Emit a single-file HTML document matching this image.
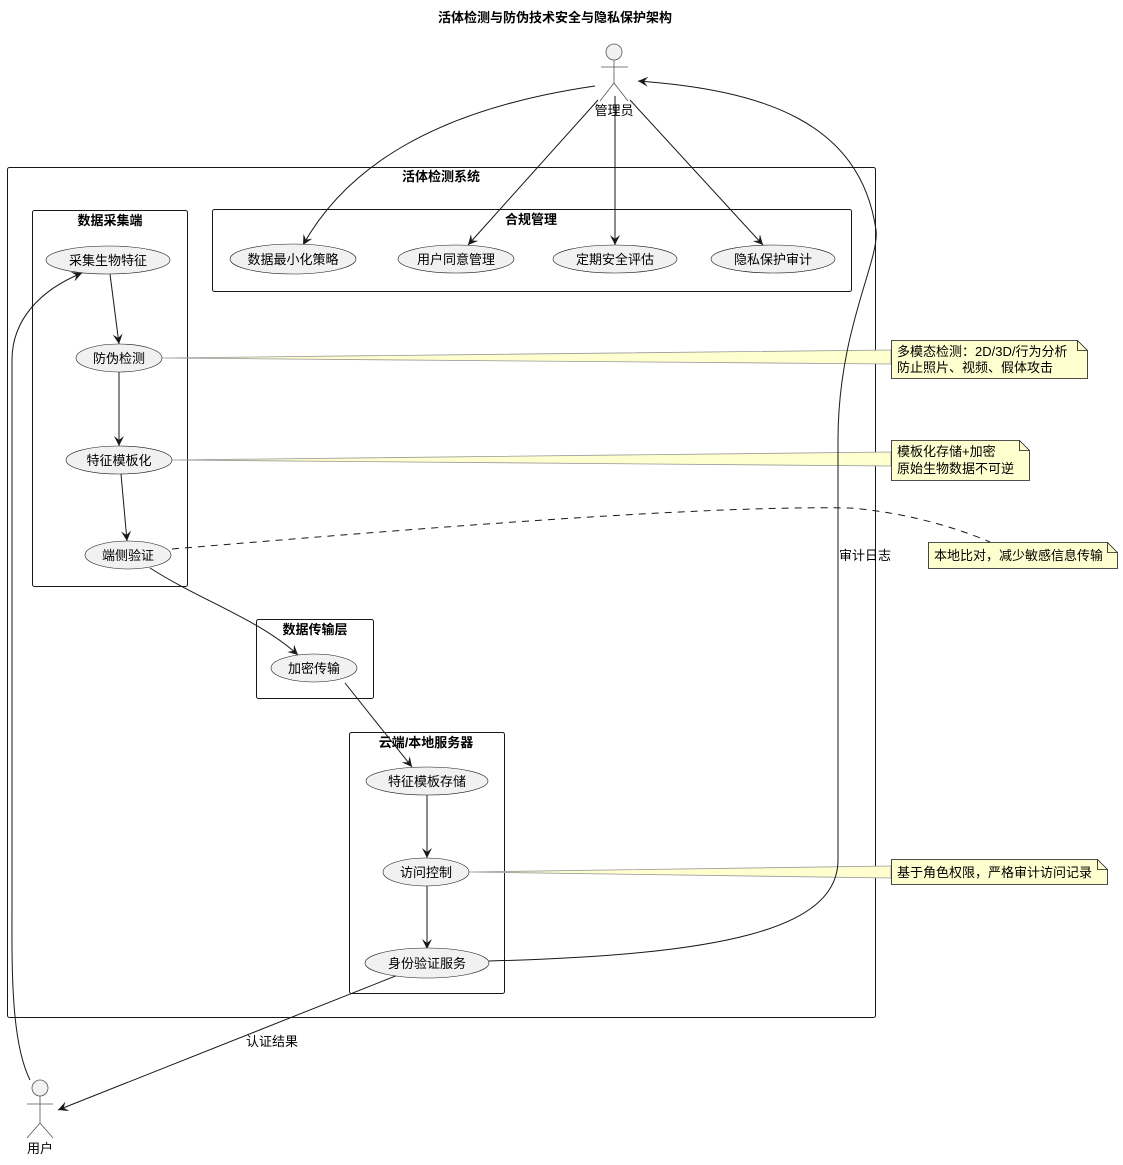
<!DOCTYPE html>
<html><head><meta charset="utf-8"><style>
html,body{margin:0;padding:0;background:#fff;}
svg text{font-family:"Liberation Sans","Noto Sans CJK SC",sans-serif;fill:#000;}
</style></head><body>
<svg width="1123" height="1160" viewBox="0 0 1123 1160" xmlns="http://www.w3.org/2000/svg">
<defs>
<marker id="a" markerWidth="12" markerHeight="10" refX="10" refY="5" orient="auto" markerUnits="userSpaceOnUse">
<path d="M0,0 L10,5 L0,10 L4,5 Z" fill="#181818"/>
</marker>
</defs>
<text x="555" y="22" font-size="13" font-weight="bold" text-anchor="middle">活体检测与防伪技术安全与隐私保护架构</text>

<!-- boxes -->
<rect x="7.5" y="167.5" width="868" height="850" rx="2" fill="none" stroke="#181818"/>
<text x="441" y="181" font-size="13" font-weight="bold" text-anchor="middle">活体检测系统</text>
<rect x="32.5" y="210.5" width="155" height="376" rx="2" fill="none" stroke="#181818"/>
<text x="110" y="225" font-size="13" font-weight="bold" text-anchor="middle">数据采集端</text>
<rect x="212.5" y="209.5" width="639" height="82" rx="2" fill="none" stroke="#181818"/>
<text x="531" y="224" font-size="13" font-weight="bold" text-anchor="middle">合规管理</text>
<rect x="256.5" y="619.5" width="117" height="79" rx="2" fill="none" stroke="#181818"/>
<text x="315" y="634" font-size="13" font-weight="bold" text-anchor="middle">数据传输层</text>
<rect x="349.5" y="732.5" width="155" height="261" rx="2" fill="none" stroke="#181818"/>
<text x="426" y="747" font-size="13" font-weight="bold" text-anchor="middle">云端/本地服务器</text>

<!-- note connectors -->
<g fill="#fefece" stroke="#999" stroke-width="0.8">
<polygon points="162,358 891,350 891,364"/>
<polygon points="172,460 891,452 891,466"/>
<polygon points="469,872 891,866 891,878"/>
</g>
<path d="M172,549 C400,530 700,505 850,508 C900,512 950,525 990,542" fill="none" stroke="#181818" stroke-dasharray="7,6"/>

<!-- notes -->
<g fill="#fefece" stroke="#181818" stroke-width="0.8">
<path d="M891.5,340.5 H1077.5 L1087.5,350.5 V378.5 H891.5 Z"/>
<path d="M1077.5,340.5 V350.5 H1087.5" fill="none"/>
<path d="M891.5,440.5 H1019.5 L1029.5,450.5 V480.5 H891.5 Z"/>
<path d="M1019.5,440.5 V450.5 H1029.5" fill="none"/>
<path d="M928.5,542.5 H1107.5 L1117.5,552.5 V568.5 H928.5 Z"/>
<path d="M1107.5,542.5 V552.5 H1117.5" fill="none"/>
<path d="M891.5,859.5 H1097.5 L1107.5,869.5 V884.5 H891.5 Z"/>
<path d="M1097.5,859.5 V869.5 H1107.5" fill="none"/>
</g>
<g font-size="13">
<text x="897" y="356">多模态检测：2D/3D/行为分析</text>
<text x="897" y="372">防止照片、视频、假体攻击</text>
<text x="897" y="456">模板化存储+加密</text>
<text x="897" y="473">原始生物数据不可逆</text>
<text x="934" y="560">本地比对，减少敏感信息传输</text>
<text x="897" y="877">基于角色权限，严格审计访问记录</text>
</g>

<!-- edges -->
<g fill="none" stroke="#181818" stroke-width="1">
<path d="M595,86 C430,110 345,170 303,245" marker-end="url(#a)"/>
<path d="M598,100 L468,245" marker-end="url(#a)"/>
<path d="M615,96 L615,245" marker-end="url(#a)"/>
<path d="M630,100 L763,245" marker-end="url(#a)"/>
<path d="M489,961 C720,955 838,930 838,860 L838,440 C838,330 880,260 876,230 C860,120 760,90 638,81" marker-end="url(#a)"/>
<path d="M30,1080 C10,1040 12,960 12,900 L12,360 C12,320 40,290 82,273" marker-end="url(#a)"/>
<path d="M398,975 L58,1110" marker-end="url(#a)"/>
<path d="M110,274 L119,344" marker-end="url(#a)"/>
<path d="M119,372 L119,446" marker-end="url(#a)"/>
<path d="M121,474 L127,541" marker-end="url(#a)"/>
<path d="M150,568 C200,600 260,620 298,655" marker-end="url(#a)"/>
<path d="M345,683 L412,767" marker-end="url(#a)"/>
<path d="M427,795 L427,858" marker-end="url(#a)"/>
<path d="M427,886 L427,949" marker-end="url(#a)"/>
</g>
<text x="865" y="560" font-size="13" text-anchor="middle">审计日志</text>
<text x="272" y="1046" font-size="13" text-anchor="middle">认证结果</text>

<!-- ellipses -->
<g fill="#f1f1f1" stroke="#181818" stroke-width="0.6">
<ellipse cx="108" cy="260" rx="62" ry="14"/>
<ellipse cx="293" cy="259" rx="63" ry="15"/>
<ellipse cx="456" cy="259" rx="58" ry="14"/>
<ellipse cx="615" cy="259" rx="62" ry="14"/>
<ellipse cx="773" cy="259" rx="62" ry="14"/>
<ellipse cx="119" cy="358" rx="43" ry="14"/>
<ellipse cx="119" cy="460" rx="53" ry="14"/>
<ellipse cx="128" cy="555" rx="43" ry="14"/>
<ellipse cx="314" cy="668" rx="43" ry="14"/>
<ellipse cx="427" cy="781" rx="61" ry="14"/>
<ellipse cx="426" cy="872" rx="43" ry="14"/>
<ellipse cx="427" cy="963" rx="62" ry="15"/>
</g>
<g font-size="13" text-anchor="middle">
<text x="108" y="265">采集生物特征</text>
<text x="293" y="264">数据最小化策略</text>
<text x="456" y="264">用户同意管理</text>
<text x="615" y="264">定期安全评估</text>
<text x="773" y="264">隐私保护审计</text>
<text x="119" y="363">防伪检测</text>
<text x="119" y="465">特征模板化</text>
<text x="128" y="560">端侧验证</text>
<text x="314" y="673">加密传输</text>
<text x="427" y="786">特征模板存储</text>
<text x="426" y="877">访问控制</text>
<text x="427" y="968">身份验证服务</text>
</g>

<!-- actors -->
<g fill="none" stroke="#555" stroke-width="0.8">
<circle cx="614" cy="52" r="8" fill="#f1f1f1"/>
<path d="M614,60 V83 M601,67 H628 M614,83 L600,101 M614,83 L628,101"/>
<circle cx="40" cy="1088" r="8" fill="#f1f1f1"/>
<path d="M40,1096 V1123 M27,1104 H53 M40,1123 L27,1138 M40,1123 L53,1138"/>
</g>
<text x="614" y="115" font-size="13" text-anchor="middle">管理员</text>
<text x="40" y="1153" font-size="13" text-anchor="middle">用户</text>
</svg>
</body></html>
